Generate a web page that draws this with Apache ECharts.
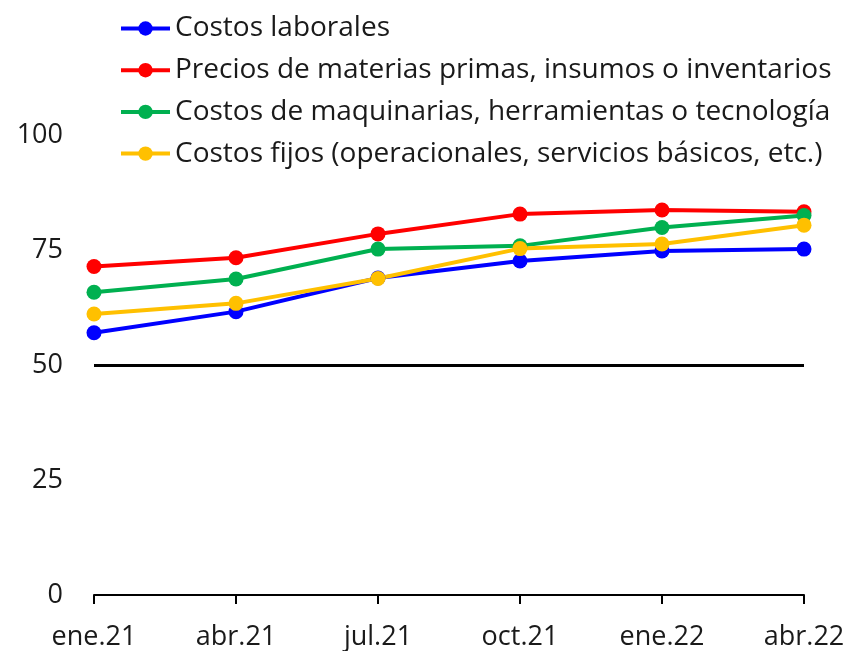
<!DOCTYPE html>
<html>
<head>
<meta charset="utf-8">
<script src="https://cdn.jsdelivr.net/npm/echarts@6/dist/echarts.min.js"></script>
<style>
  html, body { margin: 0; padding: 0; background: #fff; }
  #chart { width: 850px; height: 651px; }
</style>
</head>
<body>
<div id="chart"></div>
<script>
// ---------- data ----------
const periods = ["ene.21", "abr.21", "jul.21", "oct.21", "ene.22", "abr.22"];

const seriesNames = [
    "Costos laborales",
    "Precios de materias primas, insumos o inventarios",
    "Costos de maquinarias, herramientas o tecnología",
    "Costos fijos (operacionales, servicios básicos, etc.)"
];

const laborales   = [57.0, 61.6, 68.9, 72.6, 74.8, 75.2];
const materias    = [71.4, 73.3, 78.5, 82.8, 83.7, 83.3];
const maquinarias = [65.8, 68.7, 75.2, 75.9, 79.9, 82.5];
const fijos       = [61.1, 63.4, 68.8, 75.3, 76.3, 80.4];

const neutralLevel = 50;
const yTicks = [0, 25, 50, 75, 100];

const colors = ["#0000FF", "#FF0000", "#00B050", "#FFC000"];
const FONT = "Open Sans";

// ---------- chart ----------
const chart = echarts.init(document.getElementById("chart"));

function makeLine(name, values, color, withMark) {
    const s = {
        name: name,
        type: "line",
        data: values,
        color: color,
        symbol: "circle",
        symbolSize: 15,
        lineStyle: { width: 4, color: color },
        itemStyle: { color: color },
        emphasis: { disabled: true },
        animation: false
    };
    if (withMark) {
        s.markLine = {
            silent: true,
            symbol: "none",
            label: { show: false },
            lineStyle: { color: "#000", width: 3, type: "solid" },
            data: [{ yAxis: neutralLevel }]
        };
    }
    return s;
}

chart.setOption({
    animation: false,
    legend: {
        orient: "vertical",
        left: 119,
        top: 12,
        padding: 0,
        itemWidth: 49,
        itemHeight: 18,
        itemGap: 8.7,
        lineStyle: { width: 4 },
        textStyle: {
            fontFamily: FONT,
            fontSize: 28,
            color: "#1a1a1a",
            lineHeight: 33
        },
        data: seriesNames
    },
    grid: {
        left: 94,
        right: 46,
        top: 135,
        bottom: 56,
        containLabel: false
    },
    xAxis: {
        type: "category",
        data: periods,
        boundaryGap: false,
        axisLine: { lineStyle: { color: "#000", width: 2 } },
        axisTick: { show: true, length: 9, lineStyle: { color: "#000", width: 2 } },
        axisLabel: {
            fontFamily: FONT,
            fontSize: 27,
            color: "#1a1a1a",
            margin: 29,
            interval: 0
        },
        splitLine: { show: false }
    },
    yAxis: {
        type: "value",
        min: yTicks[0],
        max: yTicks[yTicks.length - 1],
        interval: 25,
        axisLine: { show: false },
        axisTick: { show: false },
        splitLine: { show: false },
        axisLabel: {
            fontFamily: FONT,
            fontSize: 27,
            color: "#1a1a1a",
            margin: 31
        }
    },
    series: [
        makeLine(seriesNames[0], laborales, colors[0], true),
        makeLine(seriesNames[1], materias, colors[1], false),
        makeLine(seriesNames[2], maquinarias, colors[2], false),
        makeLine(seriesNames[3], fijos, colors[3], false)
    ]
});

window.addEventListener("resize", () => chart.resize());
</script>
</body>
</html>
